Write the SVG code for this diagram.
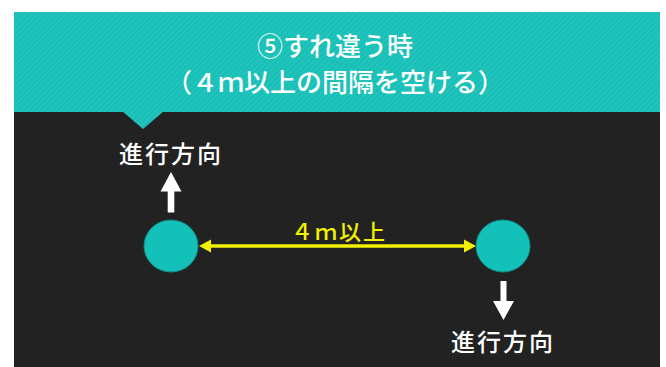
<svg xmlns="http://www.w3.org/2000/svg" width="666" height="367" viewBox="0 0 666 367">
<defs>
<pattern id="stripes" width="4" height="4" patternUnits="userSpaceOnUse" patternTransform="rotate(45)">
<rect width="4" height="4" fill="#17bfb7"/>
<rect width="1.5" height="4" fill="#26c5bd"/>
</pattern>
</defs>
<style>
.jp{font-family:"Noto Sans CJK JP","Noto Sans CJK SC",sans-serif;text-anchor:middle}
.title{fill:#ffffff;font-size:26px;font-weight:500}
.dir{fill:#ffffff;font-size:24px;font-weight:500;letter-spacing:2px}
.dist{fill:#f2f200;font-size:22px;font-weight:500;letter-spacing:2px}
.person{fill:#13c1b9;stroke:#0e8f89;stroke-width:1}
.white{fill:#ffffff}
.yellow{fill:#f2f200}
</style>
<rect x="0" y="0" width="666" height="367" fill="#ffffff"/>
<rect id="background" x="14" y="12" width="646" height="355" fill="#222222"/>
<g id="header">
<rect x="14" y="12" width="646" height="100" fill="url(#stripes)"/>
<polygon points="122,111 164,111 143,129" fill="url(#stripes)"/>
<text class="jp title" x="335" y="56">⑤すれ違う時</text>
<text class="jp title" x="335" y="92">（４ｍ以上の間隔を空ける）</text>
</g>
<g id="connectors">
<line x1="209" y1="246" x2="466" y2="246" stroke="#f2f200" stroke-width="3.5"/>
<polygon class="yellow" points="199,246 211,239.5 211,252.5"/>
<polygon class="yellow" points="476,246 464,239.5 464,252.5"/>
<polygon class="white" points="167.7,212.5 174.3,212.5 174.3,191.5 181.5,191.5 171,172 160.5,191.5 167.7,191.5"/>
<polygon class="white" points="500.5,281 506.5,281 506.5,301 514,301 503.5,320 493,301 500.5,301"/>
</g>
<g id="person-left">
<ellipse class="person" cx="171" cy="246" rx="27" ry="26"/>
</g>
<g id="person-right">
<ellipse class="person" cx="503" cy="246" rx="27" ry="26"/>
</g>
<g id="label-left">
<text class="jp dir" x="171" y="163">進行方向</text>
</g>
<g id="label-right">
<text class="jp dir" x="503" y="351">進行方向</text>
</g>
<g id="label-distance">
<text class="jp dist" x="339" y="240">４ｍ以上</text>
</g>
</svg>
